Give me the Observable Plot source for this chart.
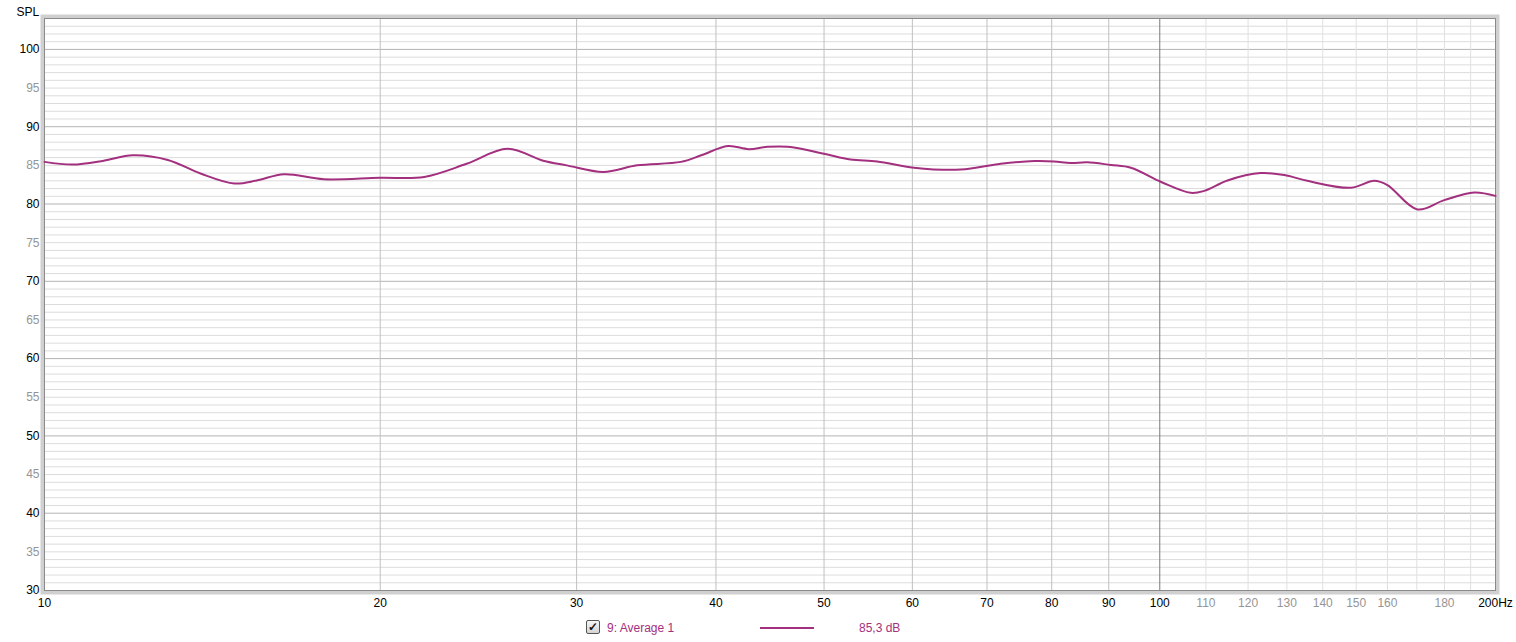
<!DOCTYPE html>
<html>
<head>
<meta charset="utf-8">
<script src="https://cdn.jsdelivr.net/npm/d3@7"></script>
<script src="https://cdn.jsdelivr.net/npm/@observablehq/plot@0.6"></script>
<style>
  body { margin: 0; background: #fff; font-family: "Liberation Sans", Arial, sans-serif; }
  #wrap { position: relative; width: 1516px; height: 642px; }
  #legend { position: absolute; left: 0; top: 612px; width: 1516px; height: 30px; font-size: 12px; color: #a3307e; }
  #legend .cb { position: absolute; left: 586px; top: 8px; width: 12px; height: 12px; border: 1px solid #555; background: linear-gradient(#f6f6f6, #d4d4d4); border-radius: 2px; font-size: 12px; line-height: 12px; text-align: center; color: #111; font-weight: bold; }
  #legend .name { position: absolute; left: 607px; top: 9px; }
  #legend .ln { position: absolute; left: 760px; top: 15px; width: 54px; height: 2px; background: #a3307e; }
  #legend .val { position: absolute; left: 859px; top: 9px; }
</style>
</head>
<body>
<div id="wrap">
  <div id="chart"></div>
  <div id="legend">
    <div class="cb">✓</div>
    <div class="name">9: Average 1</div>
    <div class="ln"></div>
    <div class="val">85,3 dB</div>
  </div>
</div>
<script>
// Frequency (Hz) and SPL (dB)
const freqs = [10, 10.6, 11.3, 12.0, 12.9, 13.8, 14.8, 15.5, 16.4, 17.8, 20, 21.9, 23.9, 26.0, 28.0, 29.4, 31.7, 34.0, 37.2, 38.8, 41.0, 42.8, 44.5, 46.4, 50, 52.8, 55.8, 60.2, 66.3, 72, 77.2, 80.4, 83.2, 86.1, 90.4, 94.2, 100.3, 106.6, 109.6, 115, 123.2, 129.3, 135.6, 148.4, 155.7, 160, 170.2, 179.9, 191.4, 200];
const spl = [85.45, 85.1, 85.6, 86.3, 85.7, 83.95, 82.65, 83.05, 83.85, 83.2, 83.4, 83.5, 85.2, 87.15, 85.6, 85.0, 84.15, 85.0, 85.45, 86.3, 87.5, 87.1, 87.4, 87.4, 86.5, 85.75, 85.5, 84.7, 84.45, 85.2, 85.55, 85.5, 85.3, 85.4, 85.05, 84.7, 82.85, 81.45, 81.7, 83.05, 84.0, 83.75, 83.0, 82.1, 83.0, 82.45, 79.3, 80.5, 81.5, 81.05];

const xMajorTicks = [10, 20, 30, 40, 50, 60, 70, 80, 90, 100, 200];
const xMinorTicks = [110, 120, 130, 140, 150, 160, 180];
const xMidGrid = [20, 30, 40, 50, 60, 70, 80, 90];
const xLightGrid = [110, 120, 130, 140, 150, 160, 170, 180, 190];
const yMajorTicks = [30, 40, 50, 60, 70, 80, 90, 100];
const yMinorTicks = [35, 45, 55, 65, 75, 85, 95];
const yGrid = d3.range(31, 104);

const data = freqs.map((f, i) => ({f, spl: spl[i]}));

const chart = Plot.plot({
  width: 1516,
  height: 612,
  marginLeft: 44,
  marginRight: 21,
  marginTop: 18,
  marginBottom: 22,
  style: {fontFamily: "'Liberation Sans', Arial, sans-serif", fontSize: "12px", background: "#fff"},
  x: {type: "log", domain: [10, 200], axis: null},
  y: {domain: [30, 104], axis: null},
  marks: [
    Plot.ruleY(yGrid.filter(v => v % 10 !== 0), {stroke: "#dcdcdc", strokeWidth: 1}),
    Plot.ruleY(yGrid.filter(v => v % 10 === 0), {stroke: "#b4b4b4", strokeWidth: 1}),
    Plot.ruleX(xLightGrid, {stroke: "#e0e0e0", strokeWidth: 1}),
    Plot.ruleX(xMidGrid, {stroke: "#c0c0c0", strokeWidth: 1}),
    Plot.ruleX([100], {stroke: "#7a7a7a", strokeWidth: 1}),
    Plot.frame({stroke: "#d0d0d0", strokeWidth: 4, inset: -2}),
    Plot.frame({stroke: "#8a8a8a", strokeWidth: 1}),
    Plot.line(data, {x: "f", y: "spl", stroke: "#a3307e", strokeWidth: 2, curve: "catmull-rom"}),
    Plot.axisX(xMajorTicks, {tickSize: 0, tickPadding: 8, fill: "#000", fontSize: 12, label: null,
      tickFormat: d => d === 200 ? "200Hz" : String(d)}),
    Plot.axisX(xMinorTicks, {tickSize: 0, tickPadding: 8, fill: "#959595", fontSize: 12, label: null}),
    Plot.axisY(yMajorTicks, {tickSize: 0, tickPadding: 5, fill: "#000", fontSize: 12, label: null}),
    Plot.axisY(yMinorTicks, {tickSize: 0, tickPadding: 5, fill: "#959595", fontSize: 12, label: null}),
    Plot.text(["SPL"], {frameAnchor: "top-left", dx: -28, dy: -11, text: d => d, fill: "#000", fontSize: 12, textAnchor: "start"})
  ]
});
document.getElementById("chart").appendChild(chart);
</script>
</body>
</html>
